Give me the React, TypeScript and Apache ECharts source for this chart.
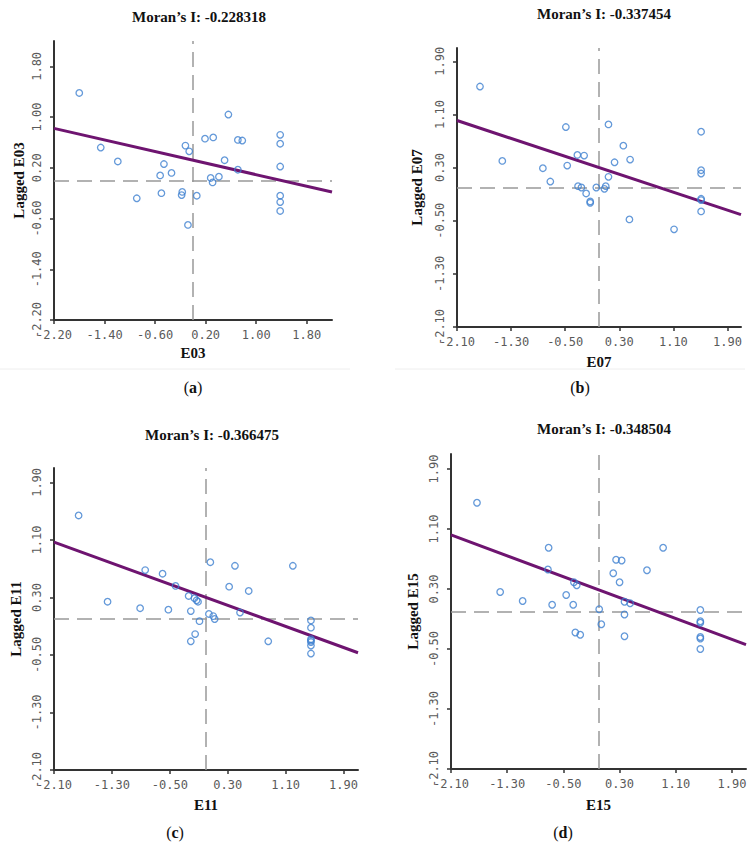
import React, { useEffect, useRef } from "react";
import * as echarts from "echarts";

// ---------- data ----------
const panelNames = ["E03", "E07", "E11", "E15"];
const moranI = [-0.228318, -0.337454, -0.366475, -0.348504];
const intercepts = [0.32, 0.3, 0.3, 0.29];
const captions = ["a", "b", "c", "d"];

const ticksA = [-2.2, -1.4, -0.6, 0.2, 1.0, 1.8];
const ticksB = [-2.1, -1.3, -0.5, 0.3, 1.1, 1.9];

const e03X = [-1.8, -1.46, -1.19, -0.89, -0.52, -0.5, -0.46, -0.34, -0.18, -0.17, -0.12, -0.06, -0.08, 0.06, 0.19, 0.32, 0.28, 0.31, 0.41, 0.5, 0.56, 0.71, 0.78, 0.71, 1.38, 1.38, 1.38, 1.38, 1.38, 1.38];
const e03Y = [1.38, 0.52, 0.3, -0.28, 0.08, -0.2, 0.26, 0.12, -0.23, -0.18, 0.55, 0.46, -0.7, -0.24, 0.66, 0.68, 0.04, -0.03, 0.06, 0.32, 1.04, 0.64, 0.63, 0.17, 0.72, 0.58, 0.22, -0.24, -0.34, -0.48];

const e07X = [-1.76, -1.43, -0.83, -0.72, -0.49, -0.47, -0.32, -0.22, -0.31, -0.26, -0.19, -0.13, -0.13, -0.04, 0.08, 0.1, 0.14, 0.14, 0.23, 0.36, 0.46, 0.45, 1.11, 1.51, 1.51, 1.51, 1.51, 1.51, 1.51];
const e07Y = [1.52, 0.4, 0.29, 0.09, 0.91, 0.33, 0.49, 0.48, 0.02, 0.0, -0.09, -0.21, -0.23, 0.0, -0.02, 0.02, 0.95, 0.16, 0.38, 0.63, 0.42, -0.48, -0.63, 0.84, 0.26, 0.21, -0.17, -0.19, -0.36];

const e11X = [-1.76, -1.36, -0.91, -0.84, -0.6, -0.52, -0.42, -0.24, -0.16, -0.13, -0.11, -0.21, -0.09, -0.15, -0.21, 0.06, 0.04, 0.1, 0.12, 0.32, 0.4, 0.47, 0.59, 0.86, 1.2, 1.45, 1.45, 1.45, 1.45, 1.45, 1.45, 1.45];
const e11Y = [1.44, 0.24, 0.15, 0.68, 0.63, 0.13, 0.46, 0.32, 0.29, 0.26, 0.24, 0.11, -0.03, -0.21, -0.31, 0.79, 0.07, 0.04, 0.0, 0.45, 0.74, 0.09, 0.39, -0.31, 0.74, -0.02, -0.12, -0.28, -0.3, -0.32, -0.37, -0.48];

const e15X = [-1.73, -1.4, -1.08, -0.71, -0.72, -0.66, -0.46, -0.36, -0.35, -0.31, -0.33, -0.26, 0.01, 0.04, 0.21, 0.25, 0.33, 0.3, 0.37, 0.45, 0.37, 0.37, 0.69, 0.92, 1.45, 1.45, 1.45, 1.45, 1.45, 1.45];
const e15Y = [1.45, 0.26, 0.14, 0.85, 0.56, 0.09, 0.22, 0.09, 0.39, 0.35, -0.28, -0.31, 0.03, -0.17, 0.51, 0.69, 0.68, 0.39, 0.13, 0.11, -0.04, -0.33, 0.55, 0.85, 0.02, -0.13, -0.15, -0.34, -0.36, -0.5];

const xsAll = [e03X, e07X, e11X, e15X];
const ysAll = [e03Y, e07Y, e11Y, e15Y];
const ranges = [2.2, 2.1, 2.1, 2.1];
const tickSets = [ticksA, ticksB, ticksB, ticksB];

// ---------- layout ----------
const grids = [
  { left: 54, top: 41, width: 278, height: 279 },
  { left: 457, top: 48, width: 284, height: 279 },
  { left: 54, top: 468, width: 304, height: 302 },
  { left: 451, top: 454, width: 295, height: 315 },
];
const yNameGaps = [28, 33, 31, 31];
const xNameGaps = [25, 27, 27, 28];
const titlePos = [
  [199, 17],
  [604, 14],
  [212, 435],
  [604, 429],
];
const captionPos = [
  [193, 387],
  [580, 387],
  [175, 832],
  [563, 832],
];

const nameStyle = {
  fontFamily: "Liberation Serif",
  fontWeight: "bold",
  fontSize: 15,
  color: "#111",
};

function axisBase(i: number) {
  const r = ranges[i];
  const ticks = tickSets[i];
  return {
    type: "value",
    gridIndex: i,
    min: -r,
    max: r,
    nameLocation: "middle",
    nameTextStyle: nameStyle,
    axisLine: { show: true, onZero: false, lineStyle: { color: "#333", width: 2 } },
    axisTick: { show: true, length: 4, customValues: ticks, lineStyle: { color: "#333", width: 1.5 } },
    splitLine: { show: false },
    axisLabel: {
      customValues: ticks,
      formatter: (v: number) => v.toFixed(2),
      fontFamily: "DejaVu Sans Mono",
      fontSize: 12,
      color: "#5a5a5a",
    },
  } as any;
}

export default function App() {
  const ref = useRef<HTMLDivElement>(null);
  useEffect(() => {
    if (!ref.current) return;
    const chart = echarts.init(ref.current, undefined, { renderer: "svg" });

    const xAxis = panelNames.map((n, i) => {
      const a = axisBase(i);
      a.name = n;
      a.nameGap = xNameGaps[i];
      a.axisLabel.margin = 9;
      return a;
    });
    const yAxis = panelNames.map((n, i) => {
      const a = axisBase(i);
      a.name = "Lagged " + n;
      a.nameGap = yNameGaps[i];
      a.nameRotate = 90;
      a.axisLabel.rotate = 90;
      a.axisLabel.margin = 11;
      return a;
    });

    const series: any[] = [];
    panelNames.forEach((n, i) => {
      const r = ranges[i];
      const pts = xsAll[i].map((x, k) => [x, ysAll[i][k]]);
      series.push({
        type: "line",
        xAxisIndex: i,
        yAxisIndex: i,
        data: [
          [-r, intercepts[i] + moranI[i] * -r],
          [r, intercepts[i] + moranI[i] * r],
        ],
        symbol: "none",
        lineStyle: { color: "#6e1470", width: 3 },
        z: 3,
        silent: true,
      });
      series.push({
        type: "scatter",
        name: n,
        xAxisIndex: i,
        yAxisIndex: i,
        data: pts,
        symbol: "circle",
        symbolSize: 6.5,
        itemStyle: { color: "rgba(255,255,255,0)", borderColor: "#3d7fd0", borderWidth: 1.3 },
        z: 4,
        markLine: {
          silent: true,
          symbol: ["none", "none"],
          label: { show: false },
          lineStyle: { color: "#999", width: 1.5, type: [15, 8] },
          data: [{ xAxis: 0 }, { yAxis: 0 }],
          z: 2,
        },
      });
    });

    const graphic: any[] = [];
    panelNames.forEach((n, i) => {
      graphic.push({
        type: "text",
        x: titlePos[i][0],
        y: titlePos[i][1],
        style: {
          text: "Moran\u2019s I: " + moranI[i].toFixed(6),
          font: "bold 15px 'Liberation Serif'",
          fill: "#111",
          align: "center",
          verticalAlign: "middle",
        },
      });
      graphic.push({
        type: "text",
        x: captionPos[i][0],
        y: captionPos[i][1],
        style: {
          text: "{n|(}{b|" + captions[i] + "}{n|)}",
          align: "center",
          verticalAlign: "middle",
          rich: {
            n: { font: "16px 'Liberation Serif'", fill: "#111" },
            b: { font: "bold 16px 'Liberation Serif'", fill: "#111" },
          },
        },
      });
    });
    graphic.push({
      type: "line",
      shape: { x1: 0, y1: 369, x2: 350, y2: 369 },
      style: { stroke: "#eeeeee", lineWidth: 1 },
    });
    graphic.push({
      type: "line",
      shape: { x1: 395, y1: 369, x2: 745, y2: 369 },
      style: { stroke: "#eeeeee", lineWidth: 1 },
    });

    chart.setOption({
      animation: false,
      backgroundColor: "#ffffff",
      grid: grids.map((g) => ({ ...g, containLabel: false })),
      xAxis,
      yAxis,
      series,
      graphic,
    });
    return () => chart.dispose();
  }, []);

  return (
    <div
      ref={ref}
      style={{ position: "absolute", left: 0, top: 0, width: 751, height: 855, background: "#fff" }}
    />
  );
}
